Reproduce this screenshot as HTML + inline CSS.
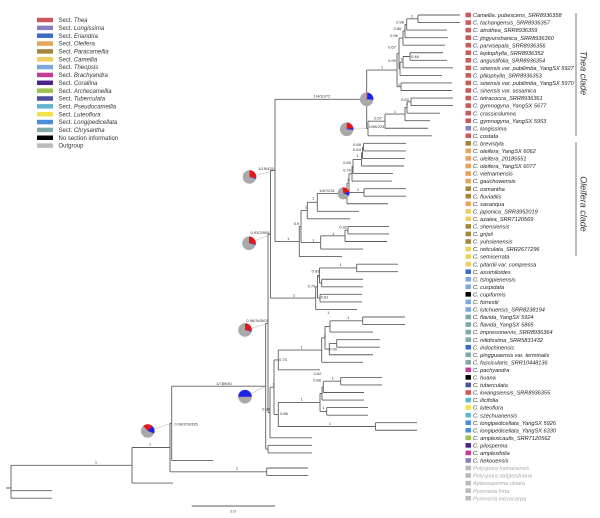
<!DOCTYPE html>
<html><head><meta charset="utf-8"><style>
html,body{margin:0;padding:0;background:#fff;}
svg{display:block;font-family:"Liberation Sans",Arial,sans-serif;}
.tr{fill:none;stroke:#5f5f5f;stroke-width:0.9;}
.cn{stroke:#cfcfcf;stroke-width:0.8;}
.s{font-size:4px;fill:#333;text-anchor:middle;}
.t{font-size:5.6px;fill:#222;font-style:italic;}
.og{fill:#aaa;}
.lg{font-size:6px;fill:#333;}
</style></head><body>
<svg width="600" height="518" viewBox="0 0 600 518" xmlns="http://www.w3.org/2000/svg">
<rect width="600" height="518" fill="#fff"/>
<!-- legend -->
<g>
<rect x="37" y="17.75" width="16" height="4.5" fill="#c9595a"/><text class="lg" x="58.5" y="22.1">Sect. <tspan font-style="italic">Thea</tspan></text>
<rect x="37" y="25.6" width="16" height="4.5" fill="#8b7fc0"/><text class="lg" x="58.5" y="29.95">Sect. <tspan font-style="italic">Longissima</tspan></text>
<rect x="37" y="33.45" width="16" height="4.5" fill="#3b6dc2"/><text class="lg" x="58.5" y="37.8">Sect. <tspan font-style="italic">Eriandria</tspan></text>
<rect x="37" y="41.3" width="16" height="4.5" fill="#e6a35f"/><text class="lg" x="58.5" y="45.65">Sect. <tspan font-style="italic">Oleifera</tspan></text>
<rect x="37" y="49.15" width="16" height="4.5" fill="#a5853a"/><text class="lg" x="58.5" y="53.5">Sect. <tspan font-style="italic">Paracamellia</tspan></text>
<rect x="37" y="57" width="16" height="4.5" fill="#f0cf62"/><text class="lg" x="58.5" y="61.35">Sect. <tspan font-style="italic">Camellia</tspan></text>
<rect x="37" y="64.85" width="16" height="4.5" fill="#7fa7dd"/><text class="lg" x="58.5" y="69.2">Sect. <tspan font-style="italic">Theopsis</tspan></text>
<rect x="37" y="72.7" width="16" height="4.5" fill="#c43c92"/><text class="lg" x="58.5" y="77.05">Sect. <tspan font-style="italic">Brachyandra</tspan></text>
<rect x="37" y="80.55" width="16" height="4.5" fill="#4c2487"/><text class="lg" x="58.5" y="84.9">Sect. <tspan font-style="italic">Corallina</tspan></text>
<rect x="37" y="88.4" width="16" height="4.5" fill="#9dc24f"/><text class="lg" x="58.5" y="92.75">Sect. <tspan font-style="italic">Archecamellia</tspan></text>
<rect x="37" y="96.25" width="16" height="4.5" fill="#4a4f9e"/><text class="lg" x="58.5" y="100.6">Sect. <tspan font-style="italic">Tuberculata</tspan></text>
<rect x="37" y="104.1" width="16" height="4.5" fill="#62b5cf"/><text class="lg" x="58.5" y="108.45">Sect. <tspan font-style="italic">Pseudocamellia</tspan></text>
<rect x="37" y="111.95" width="16" height="4.5" fill="#f1e24f"/><text class="lg" x="58.5" y="116.3">Sect. <tspan font-style="italic">Luteoflora</tspan></text>
<rect x="37" y="119.8" width="16" height="4.5" fill="#4a8ed6"/><text class="lg" x="58.5" y="124.15">Sect. <tspan font-style="italic">Longipedicellata</tspan></text>
<rect x="37" y="127.65" width="16" height="4.5" fill="#82a6aa"/><text class="lg" x="58.5" y="132">Sect. <tspan font-style="italic">Chrysantha</tspan></text>
<rect x="37" y="135.5" width="16" height="4.5" fill="#000"/><text class="lg" x="58.5" y="139.85">No section information</text>
<rect x="37" y="143.35" width="16" height="4.5" fill="#bbb"/><text class="lg" x="58.5" y="147.7">Outgroup</text>
</g>

<!-- pie connectors -->
<g class="cn">
<line x1="346.7" y1="129.3" x2="368" y2="128.5"/>
<line x1="249.5" y1="177" x2="275" y2="170.4"/>
<line x1="249" y1="243.3" x2="270.5" y2="234.2"/>
<line x1="245" y1="330" x2="268" y2="323.35"/>
<line x1="245" y1="396.7" x2="265.7" y2="386.2"/>
<line x1="147.7" y1="431" x2="171.7" y2="423.3"/>
</g>

<!-- tree -->
<path class="tr" d="
M6,488H11 M11,465.3V498.2 M11,465.3H132 M11,490.65H52 M11,498.2H52
M132,447.5V483.1 M132,447.5H170 M132,483.1H173
M170,423.3V471.8 M170,423.3H171.7 M170,471.8H266.7
M266.7,468V475.55 M266.7,468H308 M266.7,475.55H308
M171.7,386.2V460.45 M171.7,386.2H265.7 M171.7,460.45H213.3
M265.7,323.35V449.1 M265.7,323.35H268 M265.7,449.1H268
M268,445.35V452.9 M268,445.35H312 M268,452.9H312
M268,234.2V412.5 M268,234.2H270.5 M268,412.5H270
M270,387.2V437.8 M270,387.2H274 M270,437.8H312
M274,359.95V414.45 M274,359.95H278.3 M274,414.45H278.3
M278.3,350.05V369.85 M278.3,350.05H321.7 M278.3,369.85H320
M321.7,337.8V362.3 M321.7,337.8H325 M321.7,362.3H363
M325,326.45V349.1 M325,326.45H330 M325,349.1H329.3
M330,320.8V332.1 M330,320.8H362.7 M330,332.1H373
M362.7,317V324.55 M362.7,317H405 M362.7,324.55H405
M329.3,343.4V354.75 M329.3,343.4H336.7 M329.3,354.75H373
M336.7,339.65V347.2 M336.7,339.65H380 M336.7,347.2H380
M278.3,402.4V426.5 M278.3,402.4H320 M278.3,426.5H375.5
M375.5,422.7V430.25 M375.5,422.7H417 M375.5,430.25H417
M320,393.45V411.4 M320,393.45H322 M320,411.4H326.7
M322,386.85V400.05 M322,386.85H323.3 M322,400.05H364
M323.3,381.2V392.5 M323.3,381.2H340.7 M323.3,392.5H364
M340.7,377.4V384.95 M340.7,377.4H382 M340.7,384.95H382
M326.7,407.6V415.15 M326.7,407.6H368 M326.7,415.15H368
M270.5,170.4V298.1 M270.5,170.4H275 M270.5,298.1H315.7
M315.7,286.8V309.45 M315.7,286.8H317.5 M315.7,309.45H357
M317.5,275.5V298.1 M317.5,275.5H319.5 M317.5,298.1H320
M320,294.35V301.9 M320,294.35H362 M320,301.9H362
M319.5,267.9V283 M319.5,267.9H356.7 M319.5,283H321.7
M356.7,264.15V271.7 M356.7,264.15H398 M356.7,271.7H398
M321.7,279.25V286.8 M321.7,279.25H363 M321.7,286.8H363
M275,99.3V241.55 M275,99.3H366.7 M275,241.55H299.3
M366.7,70.05V128.5 M366.7,70.05H397 M366.7,128.5H368
M368,121.2V135.8 M368,121.2H385 M368,135.8H432
M385,114.1V128.25 M385,114.1H405 M385,128.25H428
M405,107.5V120.7 M405,107.5H407 M405,120.7H430
M407,101.8V113.15 M407,101.8H411 M407,113.15H440
M411,98.05V105.6 M411,98.05H453 M411,105.6H453
M397,53.4V86.7 M397,53.4H399 M397,86.7H401
M401,82.95V90.5 M401,82.95H452 M401,90.5H452
M399,38.1V68.8 M399,38.1H403 M399,68.8H400
M400,62.2V75.4 M400,62.2H403 M400,75.4H442
M403,56.5V67.85 M403,56.5H410 M403,67.85H453
M410,52.75V60.3 M410,52.75H443 M410,60.3H447
M403,31V45.2 M403,31H405 M403,45.2H445
M405,24.4V37.65 M405,24.4H406.7 M405,37.65H448
M406.7,18.8V30.1 M406.7,18.8H418 M406.7,30.1H447
M418,15V22.55 M418,15H460 M418,22.55H460
M299.3,226.5V256.6 M299.3,226.5H301 M299.3,256.6H342
M301,210.6V242.45 M301,210.6H307.3 M301,242.45H320.7
M320.7,235.85V249.05 M320.7,235.85H345 M320.7,249.05H363
M345,230.2V241.5 M345,230.2H348 M345,241.5H387
M348,226.4V233.95 M348,226.4H389 M348,233.95H389
M307.3,202.35V218.85 M307.3,202.35H317.3 M307.3,218.85H350
M317.3,193.4V211.3 M317.3,193.4H347 M317.3,211.3H359
M347,183.1V203.75 M347,183.1H349 M347,203.75H388
M349,173.8V192.4 M349,173.8H352 M349,192.4H364
M364,188.65V196.2 M364,188.65H406 M364,196.2H406
M352,166.5V181.1 M352,166.5H353 M352,181.1H392
M353,159.4V173.55 M353,159.4H361.5 M353,173.55H393
M361.5,152.8V166 M361.5,152.8H362.5 M361.5,166H404
M362.5,147.1V158.45 M362.5,147.1H363.5 M362.5,158.45H405
M363.5,143.35V150.9 M363.5,143.35H406 M363.5,150.9H406
M191.7,506H275
"/>

<!-- pies -->
<g>
<circle cx="366.7" cy="99.3" r="6.8" fill="#a9a9a9"/>
<path d="M366.7,99.3L366.7,92.5A6.8,6.8 0 0 1 368.46,92.73Z" fill="#e8141c"/>
<path d="M366.7,99.3L368.46,92.73A6.8,6.8 0 0 1 373.47,99.89Z" fill="#1a24e8"/>

<circle cx="346.7" cy="129.3" r="6.8" fill="#a9a9a9"/>
<path d="M346.7,129.3L346.7,122.5A6.8,6.8 0 0 1 353.27,127.54Z" fill="#e8141c"/>
<path d="M346.7,129.3L353.27,127.54A6.8,6.8 0 0 1 353.47,129.89Z" fill="#1a24e8"/>

<circle cx="249.5" cy="177" r="6.8" fill="#a9a9a9"/>
<path d="M249.5,177L249.5,170.2A6.8,6.8 0 0 1 256.2,178.18Z" fill="#e8141c"/>
<path d="M249.5,177L256.2,178.18A6.8,6.8 0 0 1 256.04,178.87Z" fill="#1a24e8"/>

<circle cx="249" cy="243.3" r="6.8" fill="#a9a9a9"/>
<path d="M249,243.3L249,236.5A6.8,6.8 0 0 1 255.75,244.13Z" fill="#e8141c"/>
<path d="M249,243.3L255.75,244.13A6.8,6.8 0 0 1 255.63,244.83Z" fill="#1a24e8"/>

<circle cx="343.5" cy="193.4" r="6" fill="#a9a9a9"/>
<path d="M343.5,193.4L342.46,187.49A6,6 0 0 1 349.3,191.85Z" fill="#e8141c"/>
<path d="M343.5,193.4L349.3,191.85A6,6 0 0 1 349.14,195.45Z" fill="#1a24e8"/>

<circle cx="245" cy="330" r="6.8" fill="#a9a9a9"/>
<path d="M245,330L245,323.2A6.8,6.8 0 0 1 251.7,331.18Z" fill="#e8141c"/>
<path d="M245,330L251.7,331.18A6.8,6.8 0 0 1 251.57,331.76Z" fill="#1a24e8"/>

<circle cx="245" cy="396.7" r="6.8" fill="#a9a9a9"/>
<path d="M245,396.7L238.2,396.7A6.8,6.8 0 0 1 251.8,396.7Z" fill="#1a24e8"/>
<path d="M245,396.7L238.23,397.29A6.8,6.8 0 0 1 238.2,396.7Z" fill="#e8141c"/>

<circle cx="147.7" cy="431" r="6.8" fill="#a9a9a9"/>
<path d="M147.7,431L143.33,425.79A6.8,6.8 0 0 1 152.51,426.19Z" fill="#e8141c"/>
<path d="M147.7,431L152.51,426.19A6.8,6.8 0 0 1 154.09,433.33Z" fill="#1a24e8"/>
</g>

<!-- support labels -->
<g>
<text class="s" x="322" y="97.6">1/4/10/72</text>
<text class="s" x="382" y="68.5">1</text>
<text class="s" x="412" y="17.3">1</text>
<text class="s" x="400" y="23.5">0.98</text>
<text class="s" x="397.5" y="30">0.86</text>
<text class="s" x="394" y="37">0.96</text>
<text class="s" x="392" y="48.5">0.67</text>
<text class="s" x="392" y="62">0.99</text>
<text class="s" x="401.5" y="60.5">1</text>
<text class="s" x="415" y="58">0.46</text>
<text class="s" x="399" y="86">1</text>
<text class="s" x="405" y="101">0.83</text>
<text class="s" x="407" y="105">1</text>
<text class="s" x="395" y="112.8">1</text>
<text class="s" x="378" y="119.5">0.57</text>
<text class="s" x="376.5" y="127.8">1/98/223</text>
<text class="s" x="357" y="145.8">0.68</text>
<text class="s" x="357" y="151">0.64</text>
<text class="s" x="357.5" y="157">1</text>
<text class="s" x="347" y="164">0.65</text>
<text class="s" x="347" y="171.3">0.76</text>
<text class="s" x="348" y="181">1</text>
<text class="s" x="327" y="191.8">1/67/231</text>
<text class="s" x="358" y="190.8">1</text>
<text class="s" x="313.3" y="199.5">1</text>
<text class="s" x="306" y="208.5">1</text>
<text class="s" x="296.5" y="224.8">0.9</text>
<text class="s" x="343.3" y="228.5">0.92</text>
<text class="s" x="333.3" y="235">1</text>
<text class="s" x="313.3" y="241.5">1</text>
<text class="s" x="288.3" y="239.8">1</text>
<text class="s" x="266" y="170">1/15/425</text>
<text class="s" x="260" y="234">0.93/2/508</text>
<text class="s" x="340.7" y="265.8">1</text>
<text class="s" x="315.5" y="272.3">0.93</text>
<text class="s" x="318.5" y="277.3">1</text>
<text class="s" x="311.5" y="287.3">0.79</text>
<text class="s" x="324.5" y="298.3">0.81</text>
<text class="s" x="294" y="296.5">1</text>
<text class="s" x="257" y="322">0.96/34/503</text>
<text class="s" x="328.3" y="314">1</text>
<text class="s" x="348.3" y="319">1</text>
<text class="s" x="325" y="337">1</text>
<text class="s" x="333" y="350.5">0.99</text>
<text class="s" x="301.7" y="348.5">1</text>
<text class="s" x="283" y="360.8">0.75</text>
<text class="s" x="273.5" y="385.5">1</text>
<text class="s" x="266" y="410.5">0.98</text>
<text class="s" x="317.5" y="374.8">0.62</text>
<text class="s" x="317" y="381.5">0.88</text>
<text class="s" x="332.7" y="379.5">1</text>
<text class="s" x="301.7" y="400.7">1</text>
<text class="s" x="284" y="414.8">0.86</text>
<text class="s" x="323.5" y="408.8">1</text>
<text class="s" x="330" y="424.8">1</text>
<text class="s" x="224" y="384.8">1/789/40</text>
<text class="s" x="186" y="425.5">0.99/209/335</text>
<text class="s" x="150" y="445.5">1</text>
<text class="s" x="96" y="463.5">1</text>
<text class="s" x="237" y="469.5">1</text>
<text class="s" x="233" y="512.5">2.0</text>
</g>

<!-- tip squares -->
<g>
<rect x="465.5" y="12.7" width="5.5" height="4.6" fill="#c9595a"/>
<rect x="465.5" y="20.25" width="5.5" height="4.6" fill="#c9595a"/>
<rect x="465.5" y="27.8" width="5.5" height="4.6" fill="#c9595a"/>
<rect x="465.5" y="35.35" width="5.5" height="4.6" fill="#c9595a"/>
<rect x="465.5" y="42.9" width="5.5" height="4.6" fill="#c9595a"/>
<rect x="465.5" y="50.45" width="5.5" height="4.6" fill="#c9595a"/>
<rect x="465.5" y="58" width="5.5" height="4.6" fill="#c9595a"/>
<rect x="465.5" y="65.55" width="5.5" height="4.6" fill="#c9595a"/>
<rect x="465.5" y="73.1" width="5.5" height="4.6" fill="#c9595a"/>
<rect x="465.5" y="80.65" width="5.5" height="4.6" fill="#c9595a"/>
<rect x="465.5" y="88.2" width="5.5" height="4.6" fill="#c9595a"/>
<rect x="465.5" y="95.75" width="5.5" height="4.6" fill="#c9595a"/>
<rect x="465.5" y="103.3" width="5.5" height="4.6" fill="#c9595a"/>
<rect x="465.5" y="110.85" width="5.5" height="4.6" fill="#c9595a"/>
<rect x="465.5" y="118.4" width="5.5" height="4.6" fill="#c9595a"/>
<rect x="465.5" y="125.95" width="5.5" height="4.6" fill="#8b7fc0"/>
<rect x="465.5" y="133.5" width="5.5" height="4.6" fill="#c9595a"/>
<rect x="465.5" y="141.05" width="5.5" height="4.6" fill="#a5853a"/>
<rect x="465.5" y="148.6" width="5.5" height="4.6" fill="#e6a35f"/>
<rect x="465.5" y="156.15" width="5.5" height="4.6" fill="#e6a35f"/>
<rect x="465.5" y="163.7" width="5.5" height="4.6" fill="#e6a35f"/>
<rect x="465.5" y="171.25" width="5.5" height="4.6" fill="#e6a35f"/>
<rect x="465.5" y="178.8" width="5.5" height="4.6" fill="#e6a35f"/>
<rect x="465.5" y="186.35" width="5.5" height="4.6" fill="#a5853a"/>
<rect x="465.5" y="193.9" width="5.5" height="4.6" fill="#a5853a"/>
<rect x="465.5" y="201.45" width="5.5" height="4.6" fill="#e6a35f"/>
<rect x="465.5" y="209" width="5.5" height="4.6" fill="#f0cf62"/>
<rect x="465.5" y="216.55" width="5.5" height="4.6" fill="#f0cf62"/>
<rect x="465.5" y="224.1" width="5.5" height="4.6" fill="#a5853a"/>
<rect x="465.5" y="231.65" width="5.5" height="4.6" fill="#a5853a"/>
<rect x="465.5" y="239.2" width="5.5" height="4.6" fill="#a5853a"/>
<rect x="465.5" y="246.75" width="5.5" height="4.6" fill="#f0cf62"/>
<rect x="465.5" y="254.3" width="5.5" height="4.6" fill="#f0cf62"/>
<rect x="465.5" y="261.85" width="5.5" height="4.6" fill="#f0cf62"/>
<rect x="465.5" y="269.4" width="5.5" height="4.6" fill="#3b6dc2"/>
<rect x="465.5" y="276.95" width="5.5" height="4.6" fill="#7fa7dd"/>
<rect x="465.5" y="284.5" width="5.5" height="4.6" fill="#7fa7dd"/>
<rect x="465.5" y="292.05" width="5.5" height="4.6" fill="#000"/>
<rect x="465.5" y="299.6" width="5.5" height="4.6" fill="#7fa7dd"/>
<rect x="465.5" y="307.15" width="5.5" height="4.6" fill="#7fa7dd"/>
<rect x="465.5" y="314.7" width="5.5" height="4.6" fill="#82a6aa"/>
<rect x="465.5" y="322.25" width="5.5" height="4.6" fill="#82a6aa"/>
<rect x="465.5" y="329.8" width="5.5" height="4.6" fill="#82a6aa"/>
<rect x="465.5" y="337.35" width="5.5" height="4.6" fill="#82a6aa"/>
<rect x="465.5" y="344.9" width="5.5" height="4.6" fill="#3b6dc2"/>
<rect x="465.5" y="352.45" width="5.5" height="4.6" fill="#82a6aa"/>
<rect x="465.5" y="360" width="5.5" height="4.6" fill="#82a6aa"/>
<rect x="465.5" y="367.55" width="5.5" height="4.6" fill="#c43c92"/>
<rect x="465.5" y="375.1" width="5.5" height="4.6" fill="#000"/>
<rect x="465.5" y="382.65" width="5.5" height="4.6" fill="#4a4f9e"/>
<rect x="465.5" y="390.2" width="5.5" height="4.6" fill="#c9595a"/>
<rect x="465.5" y="397.75" width="5.5" height="4.6" fill="#62b5cf"/>
<rect x="465.5" y="405.3" width="5.5" height="4.6" fill="#f1e24f"/>
<rect x="465.5" y="412.85" width="5.5" height="4.6" fill="#62b5cf"/>
<rect x="465.5" y="420.4" width="5.5" height="4.6" fill="#4a8ed6"/>
<rect x="465.5" y="427.95" width="5.5" height="4.6" fill="#4a8ed6"/>
<rect x="465.5" y="435.5" width="5.5" height="4.6" fill="#9dc24f"/>
<rect x="465.5" y="443.05" width="5.5" height="4.6" fill="#4c2487"/>
<rect x="465.5" y="450.6" width="5.5" height="4.6" fill="#c43c92"/>
<rect x="465.5" y="458.15" width="5.5" height="4.6" fill="#8b7fc0"/>
<rect x="465.5" y="465.7" width="5.5" height="4.6" fill="#bbb"/>
<rect x="465.5" y="473.25" width="5.5" height="4.6" fill="#bbb"/>
<rect x="465.5" y="480.8" width="5.5" height="4.6" fill="#bbb"/>
<rect x="465.5" y="488.35" width="5.5" height="4.6" fill="#bbb"/>
<rect x="465.5" y="495.9" width="5.5" height="4.6" fill="#bbb"/>
</g>

<!-- tip labels -->
<g>
<text class="t" x="473" y="17.1">Camellia. pubescens_SRR8936358</text>
<text class="t" x="473" y="24.65">C. tachangensis_SRR8936357</text>
<text class="t" x="473" y="32.2">C. atrothea_SRR8936359</text>
<text class="t" x="473" y="39.75">C. jingyunshanica_SRR8936360</text>
<text class="t" x="473" y="47.3">C. parvisepala_SRR8936356</text>
<text class="t" x="473" y="54.85">C. leptophylla_SRR8936352</text>
<text class="t" x="473" y="62.4">C. angustifolia_SRR8936354</text>
<text class="t" x="473" y="69.95">C. sinensis var. pubilimba_YangSX 5927</text>
<text class="t" x="473" y="77.5">C. ptilophylla_SRR8936353</text>
<text class="t" x="473" y="85.05">C. sinensis var. pubilimba_YangSX 5970</text>
<text class="t" x="473" y="92.6">C. sinensis var. assamica</text>
<text class="t" x="473" y="100.15">C. tetracocca_SRR8936361</text>
<text class="t" x="473" y="107.7">C. gymnogyna_YangSX 5677</text>
<text class="t" x="473" y="115.25">C. crassicolumna</text>
<text class="t" x="473" y="122.8">C. gymnogyna_YangSX 5953</text>
<text class="t" x="473" y="130.35">C. longissima</text>
<text class="t" x="473" y="137.9">C. costata</text>
<text class="t" x="473" y="145.45">C. brevistyla</text>
<text class="t" x="473" y="153">C. oleifera_YangSX 6062</text>
<text class="t" x="473" y="160.55">C. oleifera_20185551</text>
<text class="t" x="473" y="168.1">C. oleifera_YangSX 6077</text>
<text class="t" x="473" y="175.65">C. vietnamensis</text>
<text class="t" x="473" y="183.2">C. gauchowensis</text>
<text class="t" x="473" y="190.75">C. osmantha</text>
<text class="t" x="473" y="198.3">C. fluviatilis</text>
<text class="t" x="473" y="205.85">C. sasanqua</text>
<text class="t" x="473" y="213.4">C. japonica_SRR3952019</text>
<text class="t" x="473" y="220.95">C. azalea_SRR7120569</text>
<text class="t" x="473" y="228.5">C. shensiensis</text>
<text class="t" x="473" y="236.05">C. grijsii</text>
<text class="t" x="473" y="243.6">C. yuhsienensis</text>
<text class="t" x="473" y="251.15">C. reticulata_SRR2677296</text>
<text class="t" x="473" y="258.7">C. semiserrata</text>
<text class="t" x="473" y="266.25">C. pitardii var. compressa</text>
<text class="t" x="473" y="273.8">C. assimiloides</text>
<text class="t" x="473" y="281.35">C. tsingpienensis</text>
<text class="t" x="473" y="288.9">C. cuspidata</text>
<text class="t" x="473" y="296.45">C. cupiformis</text>
<text class="t" x="473" y="304">C. forrestii</text>
<text class="t" x="473" y="311.55">C. lutchuensis_SRR8238194</text>
<text class="t" x="473" y="319.1">C. flavida_YangSX 5924</text>
<text class="t" x="473" y="326.65">C. flavida_YangSX 5865</text>
<text class="t" x="473" y="334.2">C. impressinervis_SRR8936364</text>
<text class="t" x="473" y="341.75">C. nitidissima_SRR5831432</text>
<text class="t" x="473" y="349.3">C. indochinensis</text>
<text class="t" x="473" y="356.85">C. pingguoensis var. terminalis</text>
<text class="t" x="473" y="364.4">C. fascicularis_SRR10448136</text>
<text class="t" x="473" y="371.95">C. pachyandra</text>
<text class="t" x="473" y="379.5">C. huana</text>
<text class="t" x="473" y="387.05">C. tuberculata</text>
<text class="t" x="473" y="394.6">C. kwangsiensis_SRR8936355</text>
<text class="t" x="473" y="402.15">C. ilicifolia</text>
<text class="t" x="473" y="409.7">C. luteoflora</text>
<text class="t" x="473" y="417.25">C. szechuanensis</text>
<text class="t" x="473" y="424.8">C. longipedicellata_YangSX 5926</text>
<text class="t" x="473" y="432.35">C. longipedicellata_YangSX 6330</text>
<text class="t" x="473" y="439.9">C. amplexicaulis_SRR7120562</text>
<text class="t" x="473" y="447.45">C. pilosperma</text>
<text class="t" x="473" y="455">C. amplexifolia</text>
<text class="t" x="473" y="462.55">C. hekouensis</text>
<text class="t og" x="473" y="470.1">Polyspora hainanensis</text>
<text class="t og" x="473" y="477.65">Polyspora dalgleishiana</text>
<text class="t og" x="473" y="485.2">Apterosperma oblata</text>
<text class="t og" x="473" y="492.75">Pyrenaria hirta</text>
<text class="t og" x="473" y="500.3">Pyrenaria microcarpa</text>
</g>

<!-- clade bars -->
<g stroke="#777" stroke-width="1">
<line x1="576" y1="13" x2="576" y2="136"/>
<line x1="576" y1="142" x2="576" y2="256"/>
</g>
<text x="0" y="0" font-size="9" fill="#333" font-style="italic" text-anchor="middle" transform="translate(580.3,73) rotate(90)">Thea clade</text>
<text x="0" y="0" font-size="9" fill="#333" font-style="italic" text-anchor="middle" transform="translate(580.3,204) rotate(90)">Oleifera clade</text>
</svg>
</body></html>
